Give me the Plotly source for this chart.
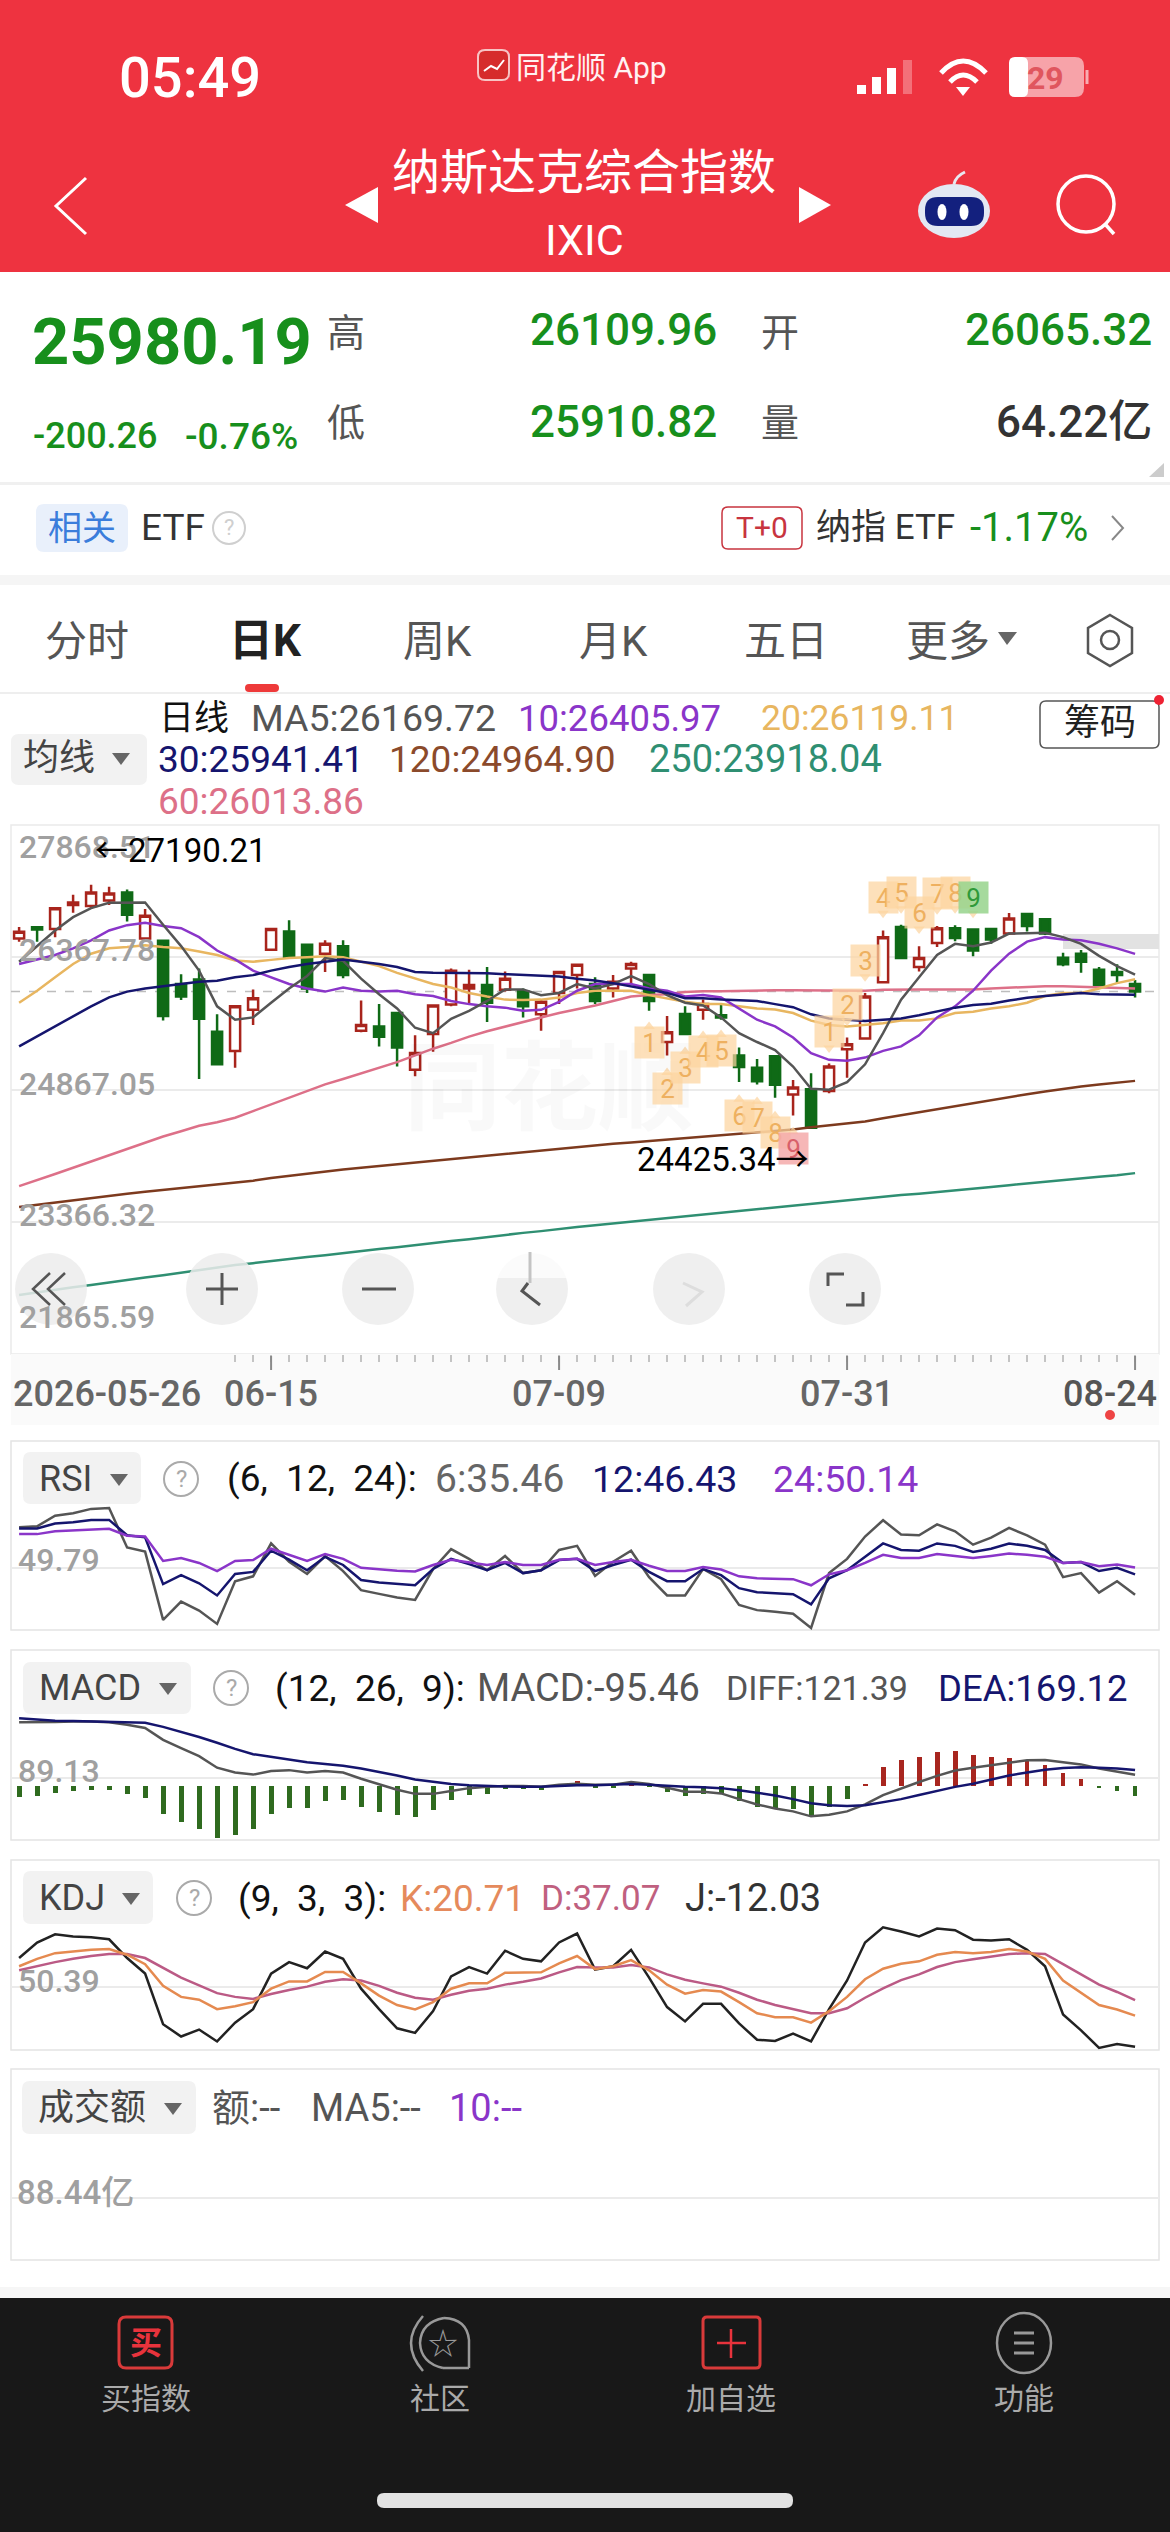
import plotly.graph_objects as go

W, H = 1170, 2532
CJK = "Roboto, Noto Sans CJK SC, sans-serif"

# daily candles, 2026-05-26 .. 2026-08-24
days = list(range(63))
open_ = [26580,26707,26687,26960,26950,27011,27102,26580,26555,26064,26115,25523,25305,25771,26454,26661,26510,26408,26494,25533,25583,25735,25092,25497,25831,26014,26054,25998,25983,25720,25963,26165,
         26064,26014,26241,26165,25406,25725,25771,25710,25254,25113,25244,24809,24870,24849,25325,25447,26084,26712,26257,26530,26697,26682,26687,26636,26859,26798,26363,26408,26226,26201,26065.32]
close = [26656,26682,26925,26990,27102,27092,26849,26839,25700,25922,25669,25153,25811,25902,26687,26368,26014,26520,26165,25599,25467,25345,25280,25821,26216,26054,25852,26125,25811,25862,26201,26282,
         25872,26089,26292,25872,25518,25497,25836,25685,25123,24961,24920,24890,24434,25128,25381,25922,26596,26358,26358,26697,26586,26444,26570,26808,26722,26636,26287,26317,26054,26165,25980.19]
high = [26712,26707,26925,27076,27190.21,27168,27137,26915,26570,26176,26241,25720,25821,26003,26697,26788,26520,26560,26560,25877,25836,25735,25482,25831,26241,26226,26257,26206,26014,25887,26216,26292,
        26140,26165,26317,26165,25700,25811,25887,25836,25345,25214,25254,24976,25052,25163,25457,25963,26672,26737,26494,26722,26732,26697,26692,26869,26864,26803,26418,26449,26257,26287,26109.96]
low = [26545,26545,26596,26874,26915,26960,26773,26545,25649,25882,24986,25143,25113,25599,26444,26358,25963,26201,26130,25518,25356,25128,25016,25295,25811,25836,25634,25978,25685,25533,25836,26014,
       25836,25912,26064,25760,25254,25482,25659,25659,24951,24925,24773,24571,24425.34,24824,25001,25431,26074,26348,26206,26484,26550,26378,26520,26621,26661,26621,26267,26191,26044,26079,25910.82]

ma5 = [26317,26494,26672,26823,26925,26985,26990,26990,26737,26494,26216,25811,25659,25685,25852,26014,26155,26358,26327,26125,25948,25786,25568,25507,25669,25760,25872,26003,26003,25938,25963,26064,
       26014,26064,26155,26064,25938,25852,25821,25685,25507,25406,25315,25128,24875,24865,24951,25153,25507,25887,26140,26393,26520,26494,26535,26636,26641,26646,26596,26520,26383,26267,26169.72]
ma10 = [26292,26343,26393,26469,26560,26672,26732,26758,26722,26697,26596,26444,26343,26216,26140,26064,26014,25978,26024,25988,25978,25988,25948,25928,25872,25836,25811,25796,25760,25771,25862,25988,
        26064,26064,26064,26014,25988,25922,25938,25912,25786,25659,25583,25457,25280,25204,25194,25229,25305,25356,25482,25685,25811,25988,26216,26408,26545,26596,26570,26560,26520,26469,26405.97]
ma20 = [25852,25988,26140,26292,26408,26469,26484,26505,26484,26469,26434,26393,26332,26317,26338,26358,26368,26378,26368,26317,26267,26191,26125,26064,26024,25963,25922,25887,25882,25887,25912,25963,
        25988,25988,25988,25938,25902,25862,25836,25836,25811,25786,25776,25735,25649,25599,25583,25599,25619,25649,25649,25674,25735,25750,25786,25811,25852,25928,25963,25963,26014,26074,26119.11]
ma30 = [25356,25472,25583,25695,25811,25912,25978,26014,26039,26064,26089,26100,26140,26165,26216,26257,26292,26317,26343,26317,26292,26257,26201,26191,26191,26186,26186,26176,26165,26155,26150,26125,
        26105,26074,26039,26003,25963,25902,25902,25887,25877,25872,25836,25801,25720,25674,25659,25644,25659,25674,25710,25750,25796,25826,25841,25877,25907,25928,25948,25963,25948,25943,25941.41]
ma60 = [23771,23837,23908,23979,24050,24126,24196,24267,24333,24394,24455,24495,24546,24622,24698,24773,24849,24925,24986,25052,25113,25178,25254,25330,25396,25467,25528,25583,25634,25685,25735,25776,
        25821,25872,25922,25938,25948,25973,25983,25983,25988,25988,25993,25993,25993,25988,25988,25988,25998,26003,26003,26003,26003,26003,26014,26024,26034,26039,26039,26034,26029,26024,26013.86]
ma120 = [23533,23559,23584,23609,23635,23660,23685,23706,23726,23746,23766,23787,23812,23832,23862,23888,23913,23938,23959,23979,23999,24014,24035,24055,24075,24095,24116,24136,24156,24176,24196,24217,
         24232,24252,24267,24283,24298,24313,24328,24343,24358,24374,24394,24414,24439,24460,24480,24505,24541,24576,24612,24647,24682,24713,24748,24784,24814,24844,24875,24900,24925,24946,24964.90]
ma250 = [22536,22567,22592,22622,22648,22678,22703,22734,22759,22789,22820,22845,22875,22896,22921,22941,22967,22987,23012,23032,23058,23078,23103,23123,23149,23169,23194,23215,23240,23260,23285,23306,
         23326,23346,23366,23387,23407,23427,23452,23473,23493,23513,23533,23554,23574,23594,23609,23630,23650,23670,23685,23706,23726,23741,23761,23781,23802,23817,23837,23857,23878,23893,23918.04]

rsi6 = [72.0,72.45,78.2,79.5,81.9,82.35,61.0,58.8,21.85,31.75,26.9,19.65,42.75,45.4,63.2,53.3,46.7,56.4,48.25,37.9,35.9,33.95,32.6,49.35,60.1,54.85,48.7,56.4,47.15,48.7,59.7,61.9,
        45.6,53.3,59.25,44.95,35.05,35.05,49.35,43.85,29.95,27.1,26.25,25.15,17.45,47.15,54.85,66.95,75.75,68.05,67.6,73.55,69.8,62.55,66.3,71.6,67.6,62.55,44.95,47.15,36.6,42.75,35.46]
rsi12 = [71.35,71.35,74.0,74.65,75.95,75.95,67.6,66.5,41.2,46.05,41.65,35.05,46.7,47.8,59.25,54.4,48.7,55.95,51.55,43.4,42.1,41.2,40.55,49.35,54.85,52.0,48.7,52.65,47.15,48.7,54.2,54.85,
         48.25,51.55,54.4,47.8,42.75,42.75,49.35,46.05,39.0,36.8,36.15,35.7,30.2,44.3,48.7,55.95,63.2,59.7,59.25,63.2,61.9,58.6,60.35,63.2,61.9,59.7,52.65,53.1,48.25,50.0,46.43]
rsi24 = [68.25,68.25,69.8,70.25,70.9,71.15,67.4,66.95,53.75,55.3,52.65,48.25,53.75,54.2,60.35,57.05,53.75,57.5,54.85,50.0,49.1,48.45,48.0,51.55,54.4,53.1,51.55,53.1,51.55,51.55,54.4,54.85,
         51.55,53.1,54.4,51.1,48.25,48.25,50.45,49.1,45.4,44.3,44.05,43.85,40.55,46.5,48.7,52.65,57.05,55.3,55.3,57.5,56.4,55.3,56.4,57.7,57.05,55.95,52.65,53.1,50.9,51.8,50.14]

diff = [659,659,664,668,668,659,634,601,479,395,311,193,143,122,160,168,143,160,143,80,25,-34,-76,-76,-46,-17,-4,4,4,-4,17,29,
        17,17,46,25,-13,-55,-55,-71,-130,-185,-227,-256,-307,-290,-256,-185,-88,-25,46,109,164,193,218,248,269,273,248,227,185,151,121.39]
dea = [701,689,676,672,668,668,659,655,613,563,508,449,386,332,302,277,248,231,214,185,151,113,71,46,25,13,4,0,-4,-4,4,13,
       13,17,25,17,4,-4,-8,-17,-38,-63,-92,-130,-172,-193,-202,-193,-164,-130,-88,-46,-4,29,71,113,143,172,189,197,193,185,169.12]
macd_hist = [-109,-101,-67,-46,-34,-34,-80,-118,-286,-361,-433,-529,-496,-433,-286,-223,-223,-151,-143,-214,-265,-298,-315,-244,-139,-88,-80,-25,-29,-34,17,55,
             -13,-13,59,-4,-59,-101,-80,-76,-151,-206,-235,-235,-290,-214,-130,25,197,269,307,353,361,323,298,290,260,218,139,80,-13,-46,-95.46]

kdj_k = [72.75,80.5,86.5,88.2,89.95,90.8,84.8,74.9,52.1,40.5,37.5,27.6,30.6,34.9,49.1,56.8,56.8,66.7,66.7,54.7,41.8,31.9,27.2,34.9,49.1,54.7,54.7,65.9,65.9,66.3,75.8,83.5,
         69.7,72.75,79.2,68.45,53.4,43.9,47.8,46.1,34.9,23.3,19.0,19.0,13.4,25.45,40.5,59,70.15,75.3,77.9,84.8,87.8,86.5,87.8,90.8,88.2,80.5,57.7,44.8,31.9,27.2,20.71]
kdj_d = [68.45,72.75,77.05,80.5,83.5,85.65,85.65,81.35,70.6,60.7,52.55,44.4,40.5,38.35,43.5,47.8,51.25,56.4,59.0,57.7,52.1,44.8,39.6,37.5,42.65,46.95,49.1,53.4,56.4,59.85,66.3,71.9,
         71.45,71.45,74.05,71.45,64.15,58.55,54.7,51.25,44.8,37.5,31.9,28.0,23.3,23.3,28.45,39.6,49.5,58.1,64.15,71.9,77.05,80.05,82.65,85.65,86.5,85.65,74.9,64.15,53.4,45.65,37.07]
kdj_j = [81.35,97.7,106.3,104.1,103.3,101.1,81.35,65.0,11.7,-1.2,6.1,-6.4,13.4,27.6,65.0,77.05,70.6,88.2,80.5,49.1,27.6,7.4,2.65,25.45,62,71.9,65,89.1,80.5,77.9,97.7,107.15,
         69.3,72.75,89.95,60.7,29.75,14.7,33.2,33.2,12.55,-4.65,-5.95,1.8,-6.4,27.6,57.7,97.7,113.6,109.3,104.1,112.3,110.6,100.7,99.85,101.1,89.95,72.75,22.0,5.25,-13.25,-9,-12.03]

price_ticks = [27868.51, 26367.78, 24867.05, 23366.32, 21865.59]
rsi_tick = 49.79
macd_tick = 89.13
kdj_tick = 50.39
date_days = [14, 30, 46]
date_labels = ["06-15", "07-09", "07-31"]

# TD sequence tags over / under the candles
td_days = [45,46,47,48,49,50,51,52,53, 35,36,37,38,39,40,41,42,43]
td_text = ["1","2","3","4","5","6","7","8","9", "1","2","3","4","5","6","7","8","9"]
td_price = [25523,25826,26332,27051,27102,26874,27092,27102,27051, 25396,24875,25113,25295,25305,24571,24546,24384,24202]

for s in [open_, close, high, low, ma5, ma10, ma20, ma30, ma60, ma120, ma250, rsi6, rsi12, rsi24, diff, dea, macd_hist, kdj_k, kdj_d, kdj_j]:
    assert len(s) == len(days), len(s)

RED = "#ee3340"
GREEN = "#178f1c"
GRAY = "#555555"
NAVY = "#15156e"
PURPLE = "#8a35c9"
ORANGE = "#e8b660"
PINK = "#dd7088"
BROWN = "#7d3a1e"
TEAL = "#2f8f72"
AXIS = "#a0a0a0"
GRID = "#ebebeb"
NB = "\u00a0"

shapes = []
notes = []


def fx(x):
    return x / W


def fy(y):
    return 1 - y / H


def label(x, y, text, size, color="#333333", anchor="left", weight=400):
    notes.append(dict(x=fx(x), y=fy(y), xref="paper", yref="paper", text=text, showarrow=False,
                      xanchor=anchor, yanchor="middle", borderpad=0,
                      font=dict(size=size, color=color, family=CJK, weight=weight)))


def rect(x0, y0, x1, y1, fill=None, line=None, lw=1, layer="below"):
    shapes.append(dict(type="rect", xref="paper", yref="paper", x0=fx(x0), x1=fx(x1), y0=fy(y0), y1=fy(y1),
                       fillcolor=fill, line=dict(color=line, width=lw if line else 0), layer=layer))


def rrect(x0, y0, x1, y1, r, fill=None, line=None, lw=1, layer="below"):
    p = "M %f %f L %f %f Q %f %f %f %f L %f %f Q %f %f %f %f L %f %f Q %f %f %f %f L %f %f Q %f %f %f %f Z" % (
        fx(x0 + r), fy(y0), fx(x1 - r), fy(y0), fx(x1), fy(y0), fx(x1), fy(y0 + r),
        fx(x1), fy(y1 - r), fx(x1), fy(y1), fx(x1 - r), fy(y1),
        fx(x0 + r), fy(y1), fx(x0), fy(y1), fx(x0), fy(y1 - r),
        fx(x0), fy(y0 + r), fx(x0), fy(y0), fx(x0 + r), fy(y0))
    shapes.append(dict(type="path", xref="paper", yref="paper", path=p, fillcolor=fill,
                       line=dict(color=line, width=lw if line else 0), layer=layer))


def poly(points, color=None, lw=2, fill=None, closed=False, layer="above"):
    p = "M " + " L ".join("%f %f" % (fx(a), fy(b)) for a, b in points) + (" Z" if closed else "")
    shapes.append(dict(type="path", xref="paper", yref="paper", path=p, fillcolor=fill,
                       line=dict(color=color, width=lw if color else 0), layer=layer))


def curve(a, ctrl, b, color, lw=3, layer="above"):
    p = "M %f %f Q %f %f %f %f" % (fx(a[0]), fy(a[1]), fx(ctrl[0]), fy(ctrl[1]), fx(b[0]), fy(b[1]))
    shapes.append(dict(type="path", xref="paper", yref="paper", path=p,
                       line=dict(color=color, width=lw), layer=layer))


def circle(cx, cy, rx, ry=None, fill=None, line=None, lw=1, layer="above"):
    ry = ry or rx
    shapes.append(dict(type="circle", xref="paper", yref="paper", x0=fx(cx - rx), x1=fx(cx + rx),
                       y0=fy(cy + ry), y1=fy(cy - ry), fillcolor=fill,
                       line=dict(color=line, width=lw if line else 0), layer=layer))


# header
rect(0, 0, W, 272, fill=RED)
label(190, 78, "05:49", 56, "white", "center", 500)
rrect(478, 50, 509, 80, 7, fill="#d62c2c", line="#f7c4c4", lw=2)
poly([(484, 71), (491, 66), (497, 69), (504, 60)], "white", 2)
label(515, 67, "同花顺 App", 30, "#fff2f2")
for bx, top, col in [(857, 85, "white"), (872, 77, "white"), (887, 68, "white"), (903, 60, "rgba(255,255,255,0.3)")]:
    rect(bx, top, bx + 9, 94, fill=col)
curve((941, 73), (963, 49), (986, 73), "white", 5)
curve((950, 82), (963, 68), (977, 82), "white", 5)
poly([(956, 87), (970, 87), (963, 96)], fill="white", closed=True)
rrect(1009, 57, 1084, 97, 9, fill="rgba(255,255,255,0.55)")
rrect(1009, 57, 1028, 97, 6, fill="white")
poly([(1087, 70), (1087, 84)], "rgba(255,255,255,0.6)", 3)
label(1045, 78, "29", 32, "#e0565e", "center", 700)
label(584, 173, "纳斯达克综合指数", 48, "white", "center")
label(584, 240, "IXIC", 43, "white", "center")
poly([(86, 178), (56, 206), (86, 234)], "white", 3)
poly([(378, 187), (345, 205), (378, 223)], fill="white", closed=True)
poly([(799, 187), (831, 205), (799, 223)], fill="white", closed=True)
curve((954, 184), (956, 176), (965, 172), "#e8e8f0", 3)
circle(954, 211, 36, 27, fill="#e3e8f3")
rrect(925, 197, 984, 226, 13, fill="#13207e", layer="above")
circle(942, 212, 4.5, 8, fill="white")
circle(964, 212, 4.5, 8, fill="white")
circle(1086, 204, 28, line="white", lw=3.5)
poly([(1105, 224), (1114, 234)], "white", 3.5)

# quote block
label(31, 342, "25980.19", 65, GREEN, weight=700)
label(326, 333, "高", 38, GRAY)
label(718, 330, "26109.96", 44, GREEN, "right", 500)
label(760, 333, "开", 38, GRAY)
label(1153, 330, "26065.32", 44, GREEN, "right", 500)
label(32, 436, "-200.26", 36, GREEN, weight=500)
label(184, 436, "-0.76%", 37, GREEN, weight=500)
label(326, 423, "低", 38, GRAY)
label(718, 422, "25910.82", 44, GREEN, "right", 500)
label(760, 423, "量", 38, GRAY)
label(1153, 422, "64.22亿", 44, "#333333", "right", 500)
poly([(1164, 477), (1164, 463), (1149, 477)], fill="#cccccc", closed=True)
rect(0, 482, W, 485, fill="#f0f0f0")
rrect(36, 504, 128, 552, 8, fill="#e9f0fb")
label(82, 528, "相关", 34, "#3b7ddb", "center")
label(140, 528, "ETF", 37, "#333333")
circle(229, 528, 16, line="#cfcfcf", lw=2)
label(229, 528, "?", 22, "#cfcfcf", "center")
rrect(722, 507, 802, 549, 6, line="#c8343f", lw=1.5)
label(762, 528, "T+0", 30, "#c8343f", "center")
label(815, 528, "纳指 ETF", 35, "#333333")
label(969, 528, "-1.17%", 40, GREEN)
poly([(1112, 516), (1123, 528), (1112, 540)], "#888888", 2)
rect(0, 575, W, 585, fill="#f5f5f5")

# tabs
for tx, tab in [(87, "分时"), (437, "周K"), (613, "月K"), (786, "五日")]:
    label(tx, 641, tab, 42, "#555555", "center")
label(265, 641, "日K", 44, "#222222", "center", 700)
label(948, 641, "更多", 42, "#555555", "center")
poly([(998, 632), (1017, 632), (1007, 645)], fill="#666666", closed=True)
poly([(1110, 615), (1132, 628), (1132, 653), (1110, 666), (1088, 653), (1088, 628)], "#555555", 2.5, closed=True)
circle(1110, 640, 9, line="#555555", lw=2.5)
rrect(245, 684, 279, 692, 4, fill="#ee3a3a")
rect(0, 692, W, 694, fill="#eeeeee")

# main chart legend
label(158, 718, "日线", 35, "#111111")
label(250, 718, "MA5:26169.72", 37.5, GRAY)
label(517, 718, "10:26405.97", 36.5, PURPLE)
label(760, 718, "20:26119.11", 35.5, ORANGE)
label(157, 759, "30:25941.41", 37, NAVY)
label(388, 759, "120:24964.90", 37, "#8b4a2b")
label(648, 759, "250:23918.04", 38, TEAL)
label(157, 801, "60:26013.86", 37, PINK)
rrect(11, 734, 147, 785, 8, fill="#f2f2f2")
label(22, 758, "均线", 36, "#444444")
poly([(112, 753), (130, 753), (121, 765)], fill="#666666", closed=True)
rrect(1040, 701, 1159, 748, 6, fill="white", line="#555555", lw=1.5)
label(1100, 723, "筹码", 36, "#222222", "center")
circle(1159, 700, 5, fill="#ee2233")

# panel frames
rect(11, 825, 1159, 1354, line="#eaeaea", lw=1.5)
rect(11, 1354, 1159, 1425, fill="#fafafa")
rect(11, 1441, 1159, 1630, line="#e4e4e4", lw=1.5)
rect(11, 1650, 1159, 1840, line="#e4e4e4", lw=1.5)
rect(11, 1860, 1159, 2050, line="#e4e4e4", lw=1.5)
rect(11, 2069, 1159, 2260, line="#e4e4e4", lw=1.5)
rect(1063, 934, 1159, 949, fill="#e2e2e2")

label(549, 1089, "同花顺", 97, "rgba(0,0,0,0.025)", "center", 700)

# price labels on the main chart
price_shift = [-22, 7, 6, 7, 37]
for v, sh in zip(price_ticks, price_shift):
    notes.append(dict(x=fx(18), y=v, xref="paper", yref="y", text="%.2f" % v, showarrow=False,
                      xanchor="left", yanchor="middle", yshift=sh, borderpad=0,
                      font=dict(size=32, color=AXIS, family=CJK, weight=500)))

# TD tags
for d, t, p in zip(td_days, td_text, td_price):
    bg, fg = "rgba(252,212,160,0.72)", "#eeb060"
    if t == "9" and d == 53:
        bg, fg = "rgba(150,212,140,0.85)", "#2f9a3a"
    if t == "9" and d == 43:
        bg, fg = "rgba(245,170,170,0.85)", "#d8606a"
    notes.append(dict(x=d, y=p, xref="x", yref="y", text=t, showarrow=False, width=29, height=31,
                      bgcolor=bg, borderpad=0, font=dict(size=26, color=fg, family=CJK)))

label(94, 850, "←27190.21", 33, "#000000")
label(810, 1159, "24425.34→", 33, "#000000", "right")

# zoom buttons over the chart
for bx in [51, 222, 378, 532, 689, 845]:
    circle(bx, 1289, 36, fill="rgba(236,236,236,0.85)")
poly([(50, 1273), (33, 1289), (50, 1305)], "#555555", 2.5)
poly([(65, 1273), (48, 1289), (65, 1305)], "#555555", 2.5)
poly([(206, 1289), (238, 1289)], "#555555", 3)
poly([(222, 1273), (222, 1305)], "#555555", 3)
poly([(362, 1289), (396, 1289)], "#555555", 3)
rect(484, 1251, 570, 1278, fill="rgba(255,255,255,0.75)", layer="above")
poly([(530, 1252), (530, 1283)], "#c4c4c4", 3)
poly([(528, 1283), (522, 1291), (540, 1305)], "#555555", 3)
poly([(683, 1283), (702, 1292), (686, 1306)], "#dddddd", 3)
poly([(828, 1286), (828, 1274), (844, 1274)], "#555555", 3)
poly([(863, 1292), (863, 1305), (846, 1305)], "#555555", 3)

# dates
label(12, 1394, "2026-05-26", 36, "#666666", weight=500)
for d, t in zip(date_days, date_labels):
    notes.append(dict(x=d, y=fy(1394), xref="x", yref="paper", text=t, showarrow=False, yanchor="middle", borderpad=0,
                      font=dict(size=36, color="#666666", family=CJK, weight=500)))
label(1158, 1394, "08-24", 36, "#555555", "right", 500)
circle(1110, 1415, 5, fill="#ee4444")
for d in date_days + [days[-1]]:
    shapes.append(dict(type="line", xref="x", yref="paper", x0=d, x1=d, y0=fy(1356), y1=fy(1370),
                       line=dict(color="#8a8a8a", width=2), layer="above"))

# indicator headers
rrect(23, 1452, 141, 1504, 8, fill="#f2f2f2")
label(38, 1479, "RSI", 36, "#444444")
poly([(110, 1474), (128, 1474), (119, 1486)], fill="#666666", closed=True)
circle(181, 1479, 17, line="#aaaaaa", lw=2)
label(181, 1479, "?", 24, "#aaaaaa", "center")
label(226, 1479, "(6," + NB + NB + "12," + NB + NB + "24):", 37, "#111111")
label(434, 1479, "6:35.46", 39, "#666666")
label(591, 1479, "12:46.43", 37.5, NAVY)
label(772, 1479, "24:50.14", 37.5, PURPLE)
label(17, 1560, "49.79", 32, AXIS, weight=500)

rrect(23, 1662, 191, 1714, 8, fill="#f2f2f2")
label(38, 1688, "MACD", 36, "#444444")
poly([(159, 1683), (177, 1683), (168, 1695)], fill="#666666", closed=True)
circle(231, 1688, 17, line="#aaaaaa", lw=2)
label(231, 1688, "?", 24, "#aaaaaa", "center")
label(274, 1688, "(12," + NB + NB + "26," + NB + NB + "9):", 37, "#111111")
label(476, 1688, "MACD:-95.46", 38, "#555555")
label(725, 1688, "DIFF:121.39", 34, "#555555")
label(937, 1688, "DEA:169.12", 36.5, NAVY)
label(17, 1771, "89.13", 32, AXIS, weight=500)

rrect(23, 1871, 153, 1924, 8, fill="#f2f2f2")
label(38, 1898, "KDJ", 36, "#444444")
poly([(122, 1893), (140, 1893), (131, 1905)], fill="#666666", closed=True)
circle(194, 1898, 17, line="#aaaaaa", lw=2)
label(194, 1898, "?", 24, "#aaaaaa", "center")
label(237, 1898, "(9," + NB + NB + "3," + NB + NB + "3):", 37, "#111111")
label(399, 1898, "K:20.71", 37, "#e58a5c")
label(540, 1898, "D:37.07", 35, "#c0607f")
label(684, 1898, "J:-12.03", 38, "#333333")
label(17, 1981, "50.39", 32, AXIS, weight=500)

rrect(22, 2081, 196, 2134, 8, fill="#f2f2f2")
label(37, 2108, "成交额", 36, "#444444")
poly([(164, 2103), (182, 2103), (173, 2115)], fill="#666666", closed=True)
label(211, 2108, "额:--", 38, "#555555")
label(310, 2108, "MA5:--", 38, "#555555")
label(448, 2108, "10:--", 38, PURPLE)
label(16, 2192, "88.44亿", 33, AXIS, weight=500)
rect(11, 2197, 1159, 2199, fill=GRID)

# bottom bar
rect(0, 2287, W, 2298, fill="#f6f6f6")
rect(0, 2298, W, H, fill="#181818")
rrect(119, 2317, 172, 2368, 7, line="#d93a3a", lw=3, layer="above")
label(145.5, 2343, "买", 32, "#e8333c", "center", 700)
curve((423, 2316), (399, 2343), (423, 2371), "#999999", 2.5)
poly([(469, 2368), (443, 2368)], "#999999", 2.5)
poly([(469, 2368), (469, 2340)], "#999999", 2.5)
curve((469, 2340), (467, 2319), (444, 2318), "#999999", 2.5)
curve((444, 2318), (421, 2322), (420, 2343), "#999999", 2.5)
curve((420, 2343), (421, 2363), (443, 2368), "#999999", 2.5)
label(443, 2343, "☆", 30, "#999999", "center")
rrect(703, 2317, 760, 2368, 4, line="#d93a3a", lw=3, layer="above")
poly([(717, 2343), (746, 2343)], "#e8333c", 2.5)
poly([(731, 2329), (731, 2358)], "#e8333c", 2.5)
circle(1024, 2343, 27, 30, line="#999999", lw=2.5)
for by in [2333, 2343, 2353]:
    poly([(1014, by), (1034, by)], "#999999", 3)
label(145.5, 2398, "买指数", 30, "#aaaaaa", "center")
label(440, 2398, "社区", 30, "#aaaaaa", "center")
label(731, 2398, "加自选", 30, "#aaaaaa", "center")
label(1024, 2398, "功能", 30, "#aaaaaa", "center")
rrect(377, 2493, 793, 2508, 7, fill="#e2e2e2")

fig = go.Figure()

fig.add_trace(go.Candlestick(
    x=days, open=open_, high=high, low=low, close=close, whiskerwidth=0, xaxis="x", yaxis="y",
    increasing=dict(line=dict(color="#a8241c", width=2.5), fillcolor="white"),
    decreasing=dict(line=dict(color="#0f6a16", width=2.5), fillcolor="#0f6a16"),
))
for series, color in [(ma250, TEAL), (ma120, BROWN), (ma60, PINK), (ma20, ORANGE), (ma10, PURPLE), (ma5, GRAY), (ma30, NAVY)]:
    fig.add_trace(go.Scatter(x=days, y=series, mode="lines", xaxis="x", yaxis="y", line=dict(color=color, width=2.5)))

# little pointers joining the TD tags to their candles
upper = td_days[:9]
fig.add_trace(go.Scatter(x=upper, y=[p - 185 for p in td_price[:9]], mode="markers", xaxis="x", yaxis="y",
                         marker=dict(symbol="triangle-down", size=10, color="rgba(252,212,160,0.72)")))
lower = td_days[9:]
fig.add_trace(go.Scatter(x=lower, y=[p + 185 for p in td_price[9:]], mode="markers", xaxis="x", yaxis="y",
                         marker=dict(symbol="triangle-up", size=10, color="rgba(252,212,160,0.72)")))

for series, color in [(rsi6, GRAY), (rsi12, NAVY), (rsi24, PURPLE)]:
    fig.add_trace(go.Scatter(x=days, y=series, mode="lines", xaxis="x2", yaxis="y2", line=dict(color=color, width=2.5)))

fig.add_trace(go.Bar(x=days, y=macd_hist, xaxis="x3", yaxis="y3", width=0.27,
                     marker=dict(color=["#a8261f" if v > 0 else "#2f6b1f" for v in macd_hist], line=dict(width=0))))
for series, color in [(diff, GRAY), (dea, NAVY)]:
    fig.add_trace(go.Scatter(x=days, y=series, mode="lines", xaxis="x3", yaxis="y3", line=dict(color=color, width=2.5)))

for series, color in [(kdj_j, "#222222"), (kdj_d, "#bb5a85"), (kdj_k, "#e58a50")]:
    fig.add_trace(go.Scatter(x=days, y=series, mode="lines", xaxis="x4", yaxis="y4", line=dict(color=color, width=2.5)))


def x_axis(anchor):
    return dict(range=[-0.45, 63.33], domain=[fx(11), fx(1159)], anchor=anchor, showgrid=False, zeroline=False,
                showticklabels=False, fixedrange=True)


def y_axis(lo, hi, top, bottom, ticks, free="x"):
    return dict(range=[lo, hi], domain=[fy(bottom), fy(top)], anchor=free, tickvals=ticks, showticklabels=False,
                gridcolor=GRID, gridwidth=1.5, zeroline=False, fixedrange=True)


main_x = x_axis("y")
main_x.update(rangeslider=dict(visible=False), ticks="outside", ticklen=7, tickcolor="#c4c4c4", tickwidth=1.5,
              tickvals=list(range(12, 63)))

fig.update_layout(
    width=W, height=H, margin=dict(l=0, r=0, t=0, b=0), paper_bgcolor="white", plot_bgcolor="rgba(0,0,0,0)",
    showlegend=False, boxgap=0.2, bargap=0, hovermode=False,
    xaxis=main_x, yaxis=y_axis(21865.59, 27868.51, 825, 1354, price_ticks, "x"),
    xaxis2=x_axis("y2"), yaxis2=y_axis(16.35, 118.65, 1441, 1630, [rsi_tick], "x2"),
    xaxis3=x_axis("y3"), yaxis3=y_axis(-550.2, 1402.8, 1650, 1840, [macd_tick], "x3"),
    xaxis4=x_axis("y4"), yaxis4=y_axis(-15.4, 184.5, 1860, 2050, [kdj_tick], "x4"),
    shapes=shapes
    + [dict(type="line", xref="paper", yref="y", x0=fx(11), x1=fx(1159), y0=close[-1], y1=close[-1],
            line=dict(color="#bdbdbd", width=1.5, dash="dash"), layer="below")],
    annotations=notes,
)

fig.write_html("out.html", config=dict(displayModeBar=False), post_script="document.body.style.margin='0';")
